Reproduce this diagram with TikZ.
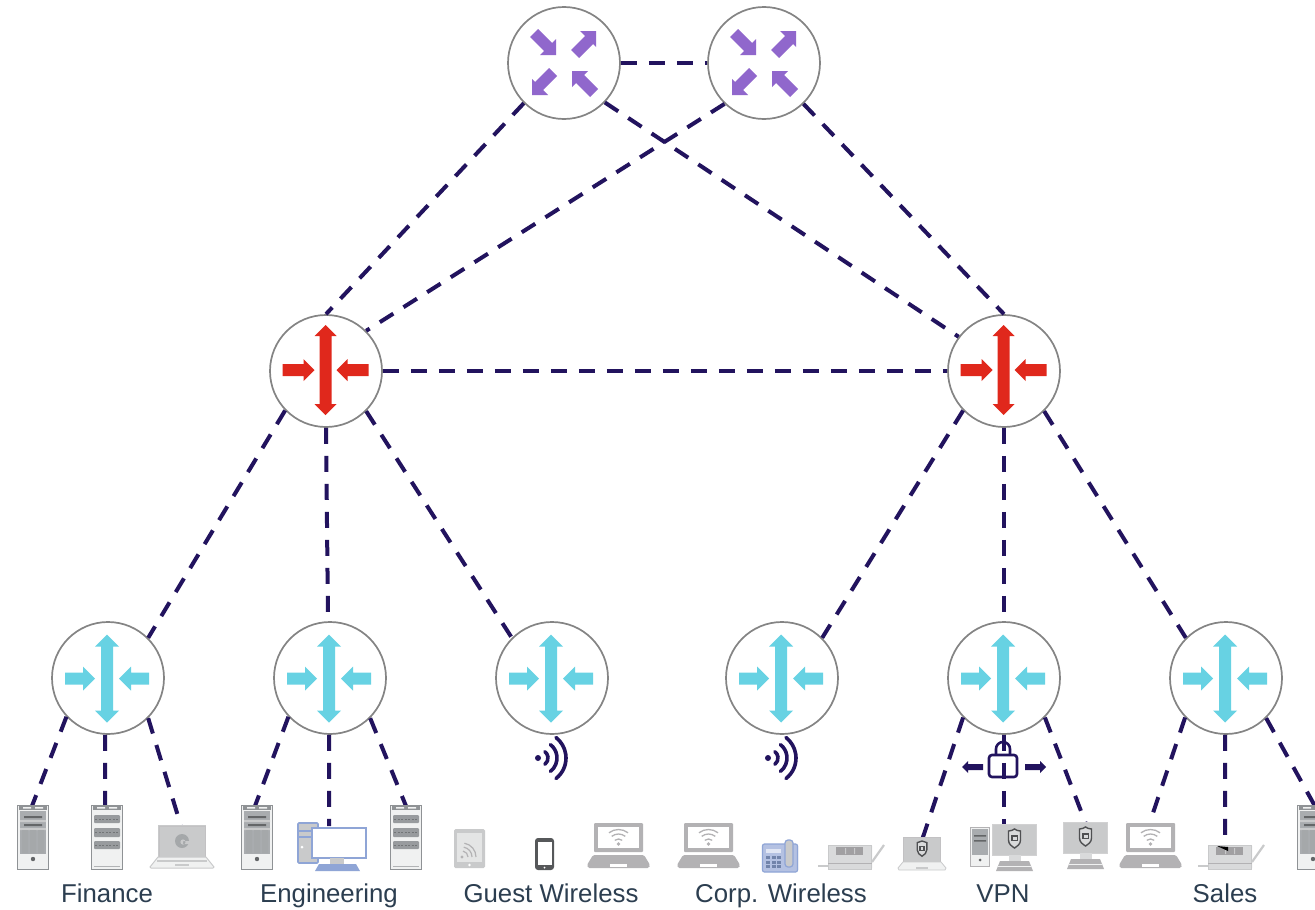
\documentclass[tikz,border=0pt]{standalone}
\usepackage{fontspec}
\setmainfont{Liberation Sans}
\definecolor{navy}{HTML}{22135E}
\definecolor{ringc}{HTML}{848484}
\definecolor{purp}{HTML}{9067CC}
\definecolor{redc}{HTML}{E0281C}
\definecolor{cyanc}{HTML}{67D2E3}
\definecolor{labelc}{HTML}{2C3E50}
\definecolor{gA}{HTML}{A9ACAF}
\definecolor{gB}{HTML}{8F9295}
\definecolor{gC}{HTML}{F0F1F1}
\definecolor{gD}{HTML}{C9CACB}
\definecolor{gE}{HTML}{B3B2B4}
\definecolor{blueL}{HTML}{8FA5D6}
\definecolor{blueF}{HTML}{B4C1E2}
\tikzset{
 ring/.style={circle,draw=ringc,line width=1.7pt,fill=white,minimum size=112pt,inner sep=0pt},
 link/.style={draw=navy,line width=4pt,dash pattern=on 16pt off 12pt},
 lbl/.style={text=labelc,font=\fontsize{25.8}{29}\selectfont,anchor=base,inner sep=0pt},
 vsign/.style={draw=navy,line width=3.6pt,line cap=round},
 core/.pic={
  \foreach \s in {1,-1}{
   \fill[purp,xscale=\s,yscale=\s] (-8,-8)--(-8,-24)--(-12,-20)--(-26,-34)--(-34,-26)--(-20,-12)--(-24,-8)--cycle;
   \fill[purp,xscale=\s,yscale=\s] (32,-32)--(32,-16)--(29,-19)--(15,-5)--(7,-13)--(21,-27)--(16,-32)--cycle;
  }
 },
 dist/.pic={
  \fill[redc] (0,-45)--(11,-34)--(6,-34)--(6,34)--(11,34)--(0,45)--(-11,34)--(-6,34)--(-6,-34)--(-11,-34)--cycle;
  \foreach \s in {1,-1}{
   \fill[redc,xscale=\s] (-11,0)--(-22,-11)--(-22,-6)--(-43,-6)--(-43,6)--(-22,6)--(-22,11)--cycle;
  }
 },
 access/.pic={
  \fill[cyanc] (0,-44)--(12,-32)--(6,-32)--(6,32)--(12,32)--(0,44)--(-12,32)--(-6,32)--(-6,-32)--(-12,-32)--cycle;
  \foreach \s in {1,-1}{
   \fill[cyanc,xscale=\s] (-12,0)--(-24,-12)--(-24,-6)--(-42,-6)--(-42,6)--(-24,6)--(-24,12)--cycle;
  }
 },
 towerbase/.pic={
  \fill[gC] (0,0) rectangle (32,65);
  \draw[gB,line width=1pt] (0.5,0.5) rectangle (31.5,64.5);
  \fill[gB] (2,1) rectangle (30,5);
  \fill[gC] (6,2) rectangle (14,3.5) (18,2) rectangle (26,3.5);
 },
 towerA/.pic={
  \pic {towerbase};
  \fill[gA] (3,6) rectangle (29,49);
  \fill[gD] (3,15) rectangle (29,17) (3,23) rectangle (29,25);
  \fill[gB!70!black] (7,11) rectangle (25,13) (7,19) rectangle (25,21);
  \fill[gB!80] (5,25) rectangle (11,48) (13,25) rectangle (19,48) (21,25) rectangle (27,48);
  \fill[gB!70!black] (16,54) circle (2.2);
 },
 towerB/.pic={
  \pic {towerbase};
  \fill[gA!90!black,rounded corners=1pt] (3,10) rectangle (29,18) (3,23) rectangle (29,32) (3,36) rectangle (29,44);
  \foreach \y in {14,27.5,40}\draw[gB!80!black,line width=1pt,dash pattern=on 2pt off 1.5pt] (4,\y)--(28,\y);
  \draw[gB!70,line width=0.8pt] (3,61)--(29,61);
 },
 laptopG/.pic={
  \fill[gD] (8,0) rectangle (56,32);
  \draw[gE!80,line width=1pt] (9,1) rectangle (55,32);
  \fill[gB!80] (32,16) circle (7);
  \fill[gD] (33,17) circle (2.6) (33,16) rectangle (40,19);
  \fill[gC] (8,32)--(56,32)--(64,42)--(63,43)--(1,43)--(0,42)--cycle;
  \draw[gD,line width=1pt] (8,32)--(56,32)--(64,42)--(63,43)--(1,43)--(0,42)--cycle;
  \fill[gD] (7,35) rectangle (57,37);
  \fill[gD] (25,38.5) rectangle (39,41);
 },
 pcblue/.pic={
  \fill[gD] (1,0) rectangle (21,40);
  \draw[blueL,line width=1.6pt,rounded corners=1pt] (1,0) rectangle (21,40);
  \draw[blueL,line width=1.2pt] (1,8)--(21,8) (1,14)--(21,14);
  \fill[white] (5,24) circle (1.5);
  \fill[white] (15,5) rectangle (69,35);
  \draw[blueL,line width=1.6pt] (15,5) rectangle (69,35);
  \fill[gD] (33,35) rectangle (47,41);
  \fill[blueL] (22,41)--(59,41)--(63,48)--(18,48)--cycle;
 },
 tablet/.pic={
  \fill[gD,rounded corners=1.5pt] (0,0) rectangle (31,39);
  \fill[gC!70!gD] (3,4) rectangle (28,33);
  \foreach \r in {6,10,14}\draw[gE,line width=1.2pt] (8,28)++(\r,0) arc[start angle=0,end angle=-80,radius=\r];
  \fill[gE] (8,28) circle (1.6);
  \fill[white] (15.5,36) circle (1.3);
 },
 phone/.pic={
  \fill[gB!60!black,rounded corners=3pt] (0,0) rectangle (19,32);
  \fill[white] (2.5,4) rectangle (16.5,27);
  \fill[white] (9.5,29.5) circle (1);
 },
 wifilaptop/.pic={
  \fill[gE,rounded corners=1pt] (7,1) rectangle (56,30);
  \fill[white] (11,5) rectangle (52,26);
  \fill[gE,rounded corners=1.5pt] (6,33)--(57,33)--(63,43)--(62,46)--(1,46)--(0,43)--cycle;
  \fill[white] (23,41.5) rectangle (40,44.5);
  \fill[gE] (31.5,22) circle (1.8);
  \foreach \r in {6,11,15.5}\draw[gE,line width=1.3pt] (31.5,23)++(-52:\r) arc[start angle=-52,end angle=-128,radius=\r];
 },
 ipphone/.pic={
  \fill[blueF,rounded corners=2pt] (0,4) rectangle (36,32);
  \draw[blueL,line width=1.2pt,rounded corners=2pt] (0.5,4) rectangle (35.5,32);
  \fill[gD,rounded corners=2pt] (23,0) rectangle (31,27);
  \draw[blueL,line width=1.2pt,rounded corners=3pt] (23,0) rectangle (31,27);
  \fill[white!60!blueF] (4,9) rectangle (19,13);
  \foreach \x in {4,9.5,15}\foreach \y in {16,20.5,25}\fill[blueL!80!black] (\x,\y) rectangle ++(4,3.4);
 },
 vphone/.pic={
  \draw[gD,line width=2.2pt] (54,17)--(66,0);
  \draw[gD,line width=2.6pt] (0,21)--(10,21);
  \fill[gD!70,rounded corners=1pt] (10,0) rectangle (54,24);
  \draw[gD,line width=1pt] (10.5,0.5) rectangle (53.5,24);
  \fill[gE!90!black] (18,2) rectangle (45,10);
  \fill[gD] (27,3) rectangle (28,9) (36,3) rectangle (37,9);
  \draw[gE,line width=0.8pt] (10,18)--(54,18);
 },
 shield/.pic={
  \fill[gD!70] (-6,-8) .. controls (-3,-8) and (-2,-9) .. (0,-10) .. controls (2,-9) and (3,-8) .. (6,-8) -- (6,1) .. controls (6,5) and (3,7) .. (0,9) .. controls (-3,7) and (-6,5) .. (-6,1) -- cycle;
  \draw[gB!55!black,line width=1.4pt] (-6,-8) .. controls (-3,-8) and (-2,-9) .. (0,-10) .. controls (2,-9) and (3,-8) .. (6,-8) -- (6,1) .. controls (6,5) and (3,7) .. (0,9) .. controls (-3,7) and (-6,5) .. (-6,1) -- cycle;
  \draw[gB!55!black,line width=1.2pt] (-2.6,-3) rectangle (2.6,1.5);
 },
 vpnlaptop/.pic={
  \fill[gD] (5,0) rectangle (43,25);
  \draw[gE!80,line width=0.8pt] (5.5,0.5) rectangle (42.5,25);
  \pic[scale=0.8] at (24,12) {shield};
  \fill[gC] (5,25)--(43,25)--(48,31)--(47,33)--(1,33)--(0,31)--cycle;
  \draw[gD,line width=0.8pt] (5,25)--(43,25)--(48,31)--(47,33)--(1,33)--(0,31)--cycle;
  \fill[gD] (18,30) rectangle (30,32);
 },
 vpnscreen/.pic={
  \fill[gD] (0,0) rectangle (45,31);
  \draw[gE!60,line width=1pt] (0.5,0.5) rectangle (44.5,31);
  \pic at (22.5,15) {shield};
  \fill[gD!70] (17,31) rectangle (29,37);
  \fill[gE] (8,37)--(37,37)--(41,47)--(4,47)--cycle;
  \draw[gC,line width=0.8pt] (6,42)--(39,42);
 },
 vpntower/.pic={
  \fill[gC] (0,0) rectangle (20,39);
  \draw[gE,line width=1pt] (0.5,0.5) rectangle (19.5,39);
  \fill[gA] (2,2) rectangle (18,28);
  \fill[gB!70!black] (4,8) rectangle (16,9.5) (4,13) rectangle (16,14.5);
  \fill[gB!70!black] (10,33) circle (1.5);
 },
 wifisign/.pic={
  \fill[navy] (-14,0) circle (3);
  \foreach \r in {8,17,26}\draw[vsign] (-12,0)++(52:\r) arc[start angle=52,end angle=-52,radius=\r];
 },
}
\begin{document}
\begin{tikzpicture}[x=1pt,y=-1pt,line join=miter]
\clip (0,0) rectangle (1315,910);
\fill[white] (0,0) rectangle (1315,910);
% routers
\node[ring] (c1) at (564,63) {};
\node[ring] (c2) at (764,63) {};
\node[ring] (d1) at (326,371) {};
\node[ring] (d2) at (1004,371) {};
\node[ring] (a1) at (108,678) {};
\node[ring] (a2) at (330,678) {};
\node[ring] (a3) at (552,678) {};
\node[ring] (a4) at (782,678) {};
\node[ring] (a5) at (1004,678) {};
\node[ring] (a6) at (1226,678) {};
% connector free ends on the devices
\coordinate (f1) at (32,806);
\coordinate (f2) at (105,806);
\coordinate (f3) at (181,826);
\coordinate (e1) at (255,806);
\coordinate (e2) at (329,826);
\coordinate (e3) at (406,806);
\coordinate (v1) at (922,840);
\coordinate (v2) at (1004,826);
\coordinate (v3) at (1086,824);
\coordinate (s1) at (1153,813);
\coordinate (s2) at (1225,835);
\coordinate (s3) at (1316,808);
% connectors
\draw[link] (c1.east)--(c2.west);
\draw[link] (c1.225)--(d1.90);
\draw[link] (c1.-44)--(d2.143);
\draw[link] (c2.226)--(d1.45);
\draw[link] (c2.-46)--(d2.90);
\draw[link] (d1.east)--(d2.west);
\draw[link] (d1.224)--(a1.45);
\draw[link] (d1.-90)--(a2.92);
\draw[link] (d1.-45)--(a3.135);
\draw[link] (d2.224)--(a4.45);
\draw[link] (d2.-90)--(a5.90);
\draw[link] (d2.-45)--(a6.135);
\draw[link] (a1.223)--(f1);
\draw[link] (a1.-93)--(f2);
\draw[link] (a1.-45)--(f3);
\draw[link] (a2.223)--(e1);
\draw[link] (a2.-91)--(e2);
\draw[link] (a2.-45)--(e3);
\draw[link] (a5.224)--(v1);
\draw[link] (a5.-90)--(v2);
\draw[link] (a5.-44)--(v3);
\draw[link] (a6.224)--(s1);
\draw[link] (a6.-91)--(s2);
\draw[link] (a6.-45)--(s3);
% router glyphs
\pic at (c1) {core};
\pic at (c2) {core};
\pic at (325.5,370) {dist};
\pic at (1003.5,370) {dist};
\foreach \x in {107,329,551,781,1003,1225}\pic at (\x,678.5) {access};
% signs
\pic at (552,758) {wifisign};
\pic at (782,758) {wifisign};
\draw[navy,line width=2.6pt,rounded corners=3pt] (989,755) rectangle (1017,777);
\draw[navy,line width=2.6pt] (996,755)--(996,749) arc[start angle=180,end angle=360,radius=7]--(1010,755);
\fill[navy] (962,767)--(968,761)--(968,764)--(983,764)--(983,770)--(968,770)--(968,773)--cycle;
\fill[navy] (1046,767)--(1040,761)--(1040,764)--(1025,764)--(1025,770)--(1040,770)--(1040,773)--cycle;
% devices
\pic at (17,805) {towerA};
\pic at (91,805) {towerB};
\pic at (150,825) {laptopG};
\pic at (241,805) {towerA};
\pic at (297,823) {pcblue};
\pic at (390,805) {towerB};
\pic at (454,829) {tablet};
\pic at (535,838) {phone};
\pic at (587,822) {wifilaptop};
\pic at (677,822) {wifilaptop};
\pic at (762,840) {ipphone};
\pic at (818,845) {vphone};
\pic at (898,837) {vpnlaptop};
\pic at (970,827) {vpntower};
\pic at (992,824) {vpnscreen};
\pic at (1063,822) {vpnscreen};
\pic at (1119,822) {wifilaptop};
\pic at (1198,845) {vphone};
\fill[black] (1217,846)--(1228,847)--(1228,851)--cycle;
\pic at (1297,805) {towerA};
% labels
\node[lbl] (t1) at (107,902) {Finance};
\node[lbl] (t2) at (329,902) {Engineering};
\node[lbl] (t3) at (551,902) {Guest Wireless};
\node[lbl] (t4) at (781,902) {Corp. Wireless};
\node[lbl] (t5) at (1003,902) {VPN};
\node[lbl] (t6) at (1225,902) {Sales};
\end{tikzpicture}
\end{document}
